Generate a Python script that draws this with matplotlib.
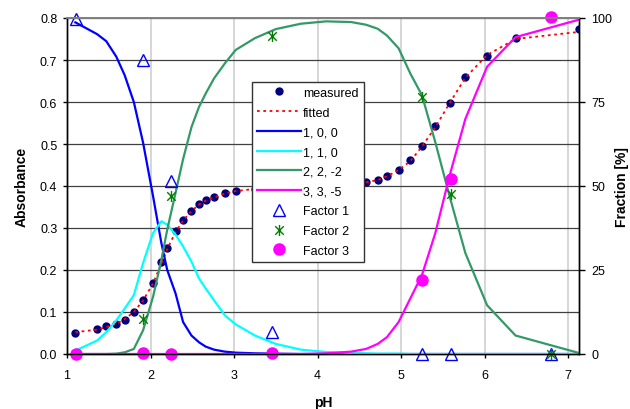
import matplotlib
matplotlib.use('Agg')
import matplotlib.pyplot as plt
from matplotlib.path import Path

plt.rcParams['font.family'] = ['Liberation Sans', 'DejaVu Sans']

# pH of the measured points (some sit behind the legend box)
ph = [1.10, 1.36, 1.47, 1.59, 1.69, 1.80, 1.91,
      2.03, 2.13, 2.20, 2.30, 2.39, 2.49, 2.58, 2.66, 2.76, 2.89,
      3.02, 3.25, 3.50, 3.80,
      4.10, 4.40, 4.58, 4.72, 4.83, 4.97,
      5.11, 5.25, 5.41, 5.58, 5.77,
      6.03, 6.37, 7.13]

measured = [0.051, 0.060, 0.066, 0.072, 0.082, 0.099, 0.129,
            0.170, 0.219, 0.253, 0.293, 0.320, 0.341, 0.358, 0.366, 0.373, 0.383,
            0.387, 0.392, 0.397, 0.401,
            0.405, 0.408, 0.410, 0.414, 0.425, 0.439,
            0.461, 0.496, 0.542, 0.598, 0.660,
            0.710, 0.752, 0.775]

fitted = [0.052, 0.058, 0.064, 0.072, 0.083, 0.100, 0.127,
          0.168, 0.215, 0.250, 0.290, 0.318, 0.340, 0.356, 0.365, 0.373, 0.382,
          0.388, 0.393, 0.398, 0.402,
          0.405, 0.407, 0.409, 0.414, 0.423, 0.438,
          0.459, 0.494, 0.540, 0.597, 0.658,
          0.712, 0.750, 0.767]

# species fractions [%]
frac_100 = [98.7, 95.2, 93.1, 88.5, 83, 75, 63,
            47, 33, 25, 18, 9.5, 5.5, 3.5, 2.2, 1.3, 0.7,
            0.4, 0.2, 0.1, 0,
            0, 0, 0, 0, 0, 0,
            0, 0, 0, 0, 0,
            0, 0, 0]
frac_110 = [1, 4, 6.5, 10, 13.5, 17.5, 27,
            36, 39.5, 38.5, 35.5, 32, 27.5, 22.5, 19.5, 16, 11.5,
            8.8, 5.5, 3, 1.3,
            0.6, 0.3, 0.2, 0.1, 0.1, 0.1,
            0, 0, 0, 0, 0,
            0, 0, 0]
frac_22m2 = [0, 0, 0, 0.1, 0.5, 1.5, 7,
             17, 28, 37, 48, 58, 67.5, 73.5, 77.5, 82, 86.5,
             90.5, 94, 96.7, 98.3,
             99, 98.8, 98, 96.8, 94.8, 91,
             83.5, 77, 63, 47, 30,
             14.5, 5.5, 0.3]
frac_33m5 = [0, 0, 0, 0, 0, 0, 0,
             0, 0, 0, 0, 0, 0, 0, 0, 0, 0,
             0, 0, 0, 0,
             0.2, 0.7, 1.5, 3, 5, 9.5,
             16.5, 23.5, 36, 53, 70,
             85.5, 94.3, 99.5]

# factor analysis points [%]
factor_ph = [1.11, 1.91, 2.245, 3.45, 5.25, 5.60, 6.79]
factor1 = [99.7, 87.6, 51.6, 6.6, 0, 0, 0]
factor2 = [0, 10.4, 46.9, 94.5, 76.6, 47.6, 0]
factor3 = [0, 0.4, 0, 0.3, 21.9, 52.1, 100.3]

# Excel style star marker (X with a vertical bar)
star = Path([(-1, -1), (1, 1), (-1, 1), (1, -1), (0, -1.3), (0, 1.3)],
            [Path.MOVETO, Path.LINETO, Path.MOVETO, Path.LINETO, Path.MOVETO, Path.LINETO])

fig = plt.figure(figsize=(6.3, 4.1), dpi=100)
ax = fig.add_axes([67 / 630, 55 / 410, 512 / 630, 336 / 410])
ax2 = ax.twinx()

ax.set_axisbelow(True)
ax.yaxis.grid(True, color='#404040', lw=0.9)
ax.xaxis.grid(True, color='#d0d0d0', lw=1.2)

h_meas, = ax.plot(ph, measured, 'o', color='#000080', ms=5, ls='none', label='measured')
h_fit, = ax.plot(ph, fitted, color='#ff0000', lw=1.3, ls=(0, (1.5, 2)), label='fitted')

h1, = ax2.plot(ph, frac_100, color='#0000ff', lw=1.6, label='1, 0, 0')
h2, = ax2.plot(ph, frac_110, color='#00ffff', lw=1.6, label='1, 1, 0')
h3, = ax2.plot(ph, frac_22m2, color='#339966', lw=1.6, label='2, 2, -2')
h4, = ax2.plot(ph, frac_33m5, color='#ff00ff', lw=1.6, label='3, 3, -5')

f1, = ax2.plot(factor_ph, factor1, '^', ms=8, mfc='none', mec='#0000ff', mew=1.0,
               ls='none', clip_on=False, label='Factor 1')
f2, = ax2.plot(factor_ph, factor2, marker=star, ms=8, mec='#008000', mew=1.0,
               ls='none', clip_on=False, label='Factor 2')
f3, = ax2.plot(factor_ph, factor3, 'o', ms=8, color='#ff00ff',
               ls='none', clip_on=False, label='Factor 3')

ax.set_xlim(1, 7.13)
ax.set_ylim(0, 0.8)
ax2.set_ylim(0, 100)
ax.set_xticks([1, 2, 3, 4, 5, 6, 7])
ax.set_yticks([0, 0.1, 0.2, 0.3, 0.4, 0.5, 0.6, 0.7, 0.8])
ax.set_yticklabels(['%.1f' % v for v in ax.get_yticks()])
ax2.set_yticks([0, 25, 50, 75, 100])

ax.tick_params(axis='x', length=3, width=1, pad=8, labelsize=9)
ax.tick_params(axis='y', length=3, width=1, pad=4, labelsize=9)
ax2.tick_params(axis='y', length=4, width=1, pad=5, labelsize=9)

for a in (ax, ax2):
    a.spines['top'].set_color('#808080')
    a.spines['top'].set_linewidth(1.3)
    for s in ('left', 'right', 'bottom'):
        a.spines[s].set_color('black')
        a.spines[s].set_linewidth(1.0)

ax.set_xlabel('pH', fontsize=10, fontweight='bold', labelpad=10)
ax.set_ylabel('Absorbance', fontsize=10, fontweight='bold', labelpad=8)
ax2.set_ylabel('Fraction [%]', fontsize=10, fontweight='bold', labelpad=2)

handles = [h_meas, h_fit, h1, h2, h3, h4, f1, f2, f3]
leg = ax2.legend(handles=handles, loc='upper left', bbox_to_anchor=(0.361, 0.81),
                 borderaxespad=0, fancybox=False, framealpha=1, edgecolor='#333333',
                 fontsize=9, handlelength=3.5, handletextpad=0.2, labelspacing=0.62,
                 numpoints=1)
leg.get_frame().set_linewidth(1.0)
leg.set_zorder(10)

fig.savefig('out.png', dpi=100)
